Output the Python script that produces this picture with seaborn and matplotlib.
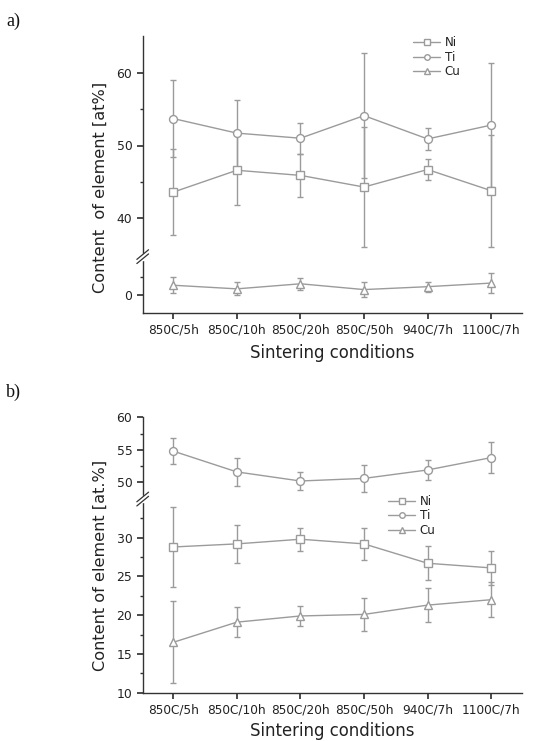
import numpy as np
import pandas as pd
import matplotlib
matplotlib.use("Agg")
import matplotlib.pyplot as plt
import seaborn as sns

# sintering conditions (shared by both panels)
conditions = ["850C/5h", "850C/10h", "850C/20h", "850C/50h", "940C/7h", "1100C/7h"]
elements = ["Ni", "Ti", "Cu"]

# panel a) mean and error (at%)
a_ni = [43.6, 46.6, 45.9, 44.3, 46.7, 43.8]
a_ni_err = [5.9, 4.8, 2.9, 8.2, 1.5, 7.7]
a_ti = [53.7, 51.7, 51.0, 54.1, 50.9, 52.8]
a_ti_err = [5.3, 4.6, 2.1, 8.6, 1.5, 8.5]
a_cu = [1.3, 0.8, 1.5, 0.7, 1.1, 1.6]
a_cu_err = [1.1, 0.9, 0.8, 1.0, 0.7, 1.4]

# panel b) mean and error (at.%)
b_ni = [28.8, 29.2, 29.8, 29.2, 26.7, 26.1]
b_ni_err = [5.1, 2.45, 1.5, 2.1, 2.2, 2.2]
b_ti = [54.8, 51.6, 50.2, 50.6, 51.9, 53.8]
b_ti_err = [2.05, 2.1, 1.4, 2.1, 1.6, 2.4]
b_cu = [16.5, 19.1, 19.9, 20.1, 21.3, 22.0]
b_cu_err = [5.3, 1.9, 1.3, 2.15, 2.15, 2.25]

LINE = "#9b9b9b"
DARK = "#333333"
TEXT = "#222222"
MARKERS = {"Ni": "s", "Ti": "o", "Cu": "^"}

sns.set_theme(style="ticks")
plt.rcParams["font.family"] = ["DejaVu Sans"]
plt.rcParams.update({
    "axes.edgecolor": DARK, "axes.linewidth": 1.0,
    "xtick.color": DARK, "ytick.color": DARK,
    "xtick.labelcolor": TEXT, "ytick.labelcolor": TEXT,
    "xtick.labelsize": 8.7, "ytick.labelsize": 8.9,
    "xtick.major.size": 4, "ytick.major.size": 4,
    "ytick.minor.size": 2.5, "ytick.minor.visible": True,
    "xtick.minor.visible": False,
})


def long_frame(ni, ni_err, ti, ti_err, cu, cu_err):
    rows = []
    for name, vals, errs in [("Ni", ni, ni_err), ("Ti", ti, ti_err), ("Cu", cu, cu_err)]:
        for i, (v, e) in enumerate(zip(vals, errs)):
            rows.append({"pos": i, "cond": conditions[i], "element": name, "value": v, "err": e})
    return pd.DataFrame(rows)


def draw(ax, df):
    sns.lineplot(data=df, x="pos", y="value", style="element", markers=MARKERS,
                 dashes=False, color=LINE, linewidth=1.0, markersize=5.7,
                 markerfacecolor="white", markeredgecolor=LINE, markeredgewidth=1.0,
                 legend=False, ax=ax, zorder=3)
    ax.errorbar(df["pos"], df["value"], yerr=df["err"], fmt="none",
                ecolor=LINE, elinewidth=1.0, capsize=2.5, capthick=1.0, zorder=2)
    ax.set_xlim(-0.48, 5.48)
    ax.set_xlabel("")
    ax.set_ylabel("")


def breakmarks(ax_top, ax_bot):
    kw = dict(color=DARK, lw=0.9, clip_on=False)
    x0 = ax_top.get_position().x0
    y_mid = (ax_top.get_position().y0 + ax_bot.get_position().y1) / 2
    dx, dy = 0.011, 0.0065
    fig.add_artist(plt.Rectangle((x0 - 0.003, y_mid - 0.004), 0.006, 0.008,
                                 transform=fig.transFigure, color="white", zorder=5))
    for off in (-0.0028, 0.0028):
        fig.add_artist(plt.Line2D([x0 - dx, x0 + dx], [y_mid - dy + off, y_mid + dy + off],
                                  transform=fig.transFigure, zorder=6, **kw))


def legend_at(x_px, y_px):
    handles = [plt.Line2D([], [], color=LINE, lw=1.0, marker=MARKERS[e], markersize=4,
                          markerfacecolor="white", markeredgecolor=LINE) for e in elements]
    fig.legend(handles, elements, loc="upper left", bbox_to_anchor=(x_px / W, 1 - y_px / H),
               frameon=False, fontsize=8.6, handlelength=2.3, handletextpad=0.35,
               labelspacing=0.12, borderaxespad=0, borderpad=0, labelcolor=TEXT)


W, H = 533, 741
fig = plt.figure(figsize=(W / 100, H / 100), dpi=100)


def axes_px(left, top, right, bottom):
    return fig.add_axes([left / W, 1 - bottom / H, (right - left) / W, (bottom - top) / H])


df_a = long_frame(a_ni, a_ni_err, a_ti, a_ti_err, a_cu, a_cu_err)
df_b = long_frame(b_ni, b_ni_err, b_ti, b_ti_err, b_cu, b_cu_err)

# ---- panel a
a_top = axes_px(142.7, 36.2, 521.7, 254.8)
a_bot = axes_px(142.7, 258.5, 521.7, 312.7)
for ax in (a_top, a_bot):
    draw(ax, df_a)
a_top.set_ylim(35, 65)
a_top.set_yticks([40, 50, 60])
a_top.set_yticks([45, 55], minor=True)
a_bot.set_ylim(-2.5, 5)
a_bot.set_yticks([0])
a_bot.set_yticks([2.5], minor=True)

# ---- panel b
b_top = axes_px(142.7, 417.3, 521.7, 495.3)
b_bot = axes_px(142.7, 502.8, 521.7, 692.7)
for ax in (b_top, b_bot):
    draw(ax, df_b)
b_top.set_ylim(48, 60)
b_top.set_yticks([50, 55, 60])
b_top.set_yticks([52.5, 57.5], minor=True)
b_bot.set_ylim(10, 34.5)
b_bot.set_yticks([10, 15, 20, 25, 30])
b_bot.set_yticks([12.5, 17.5, 22.5, 27.5, 32.5], minor=True)

for top, bot in ((a_top, a_bot), (b_top, b_bot)):
    sns.despine(ax=top, bottom=True)
    sns.despine(ax=bot)
    top.tick_params(axis="x", which="both", bottom=False, labelbottom=False)
    bot.set_xticks(range(len(conditions)))
    bot.set_xticklabels(conditions)
    bot.tick_params(axis="x", pad=4)
    breakmarks(top, bot)

legend_at(413, 36.5)
legend_at(388, 495)

x_mid = (142.7 + 521.7) / 2
fig.text(x_mid / W, 1 - 358 / H, "Sintering conditions", ha="center", va="baseline",
         fontsize=11.9, color=TEXT)
fig.text(x_mid / W, 1 - 735.5 / H, "Sintering conditions", ha="center", va="baseline",
         fontsize=11.9, color=TEXT)
fig.text(100 / W, 1 - 187.6 / H, "Content  of element [at%]", rotation=90,
         ha="center", va="center", fontsize=11.6, color=TEXT)
fig.text(100 / W, 1 - 565 / H, "Content of element [at.%]", rotation=90,
         ha="center", va="center", fontsize=11.6, color=TEXT)

for lab, y in (("a)", 21), ("b)", 392)):
    fig.text(6 / W, 1 - y / H, lab, ha="left", va="center", fontsize=13,
             family=["Liberation Serif", "DejaVu Serif"], color="#111111")

fig.savefig("out.png", dpi=100)
